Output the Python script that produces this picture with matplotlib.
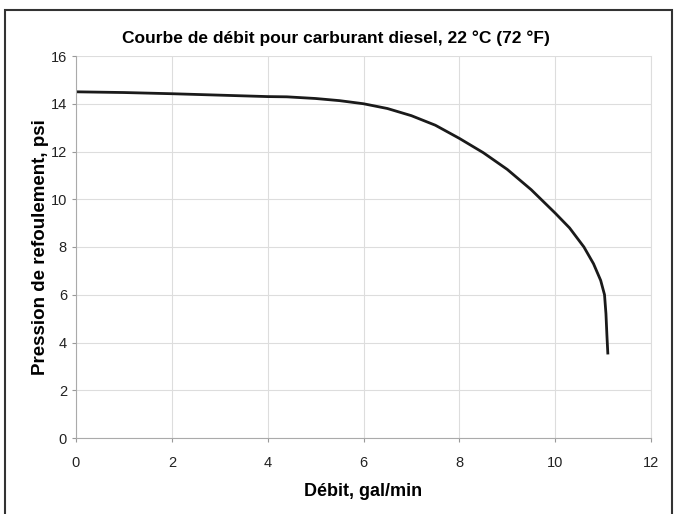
import matplotlib
matplotlib.use("Agg")
import matplotlib.pyplot as plt
from matplotlib.patches import Rectangle

plt.rcParams['font.family'] = ['Liberation Sans', 'DejaVu Sans']

# courbe de débit
debit = [0.0, 1.0, 2.0, 3.0, 4.0, 4.4, 5.0, 5.5, 6.0, 6.5, 7.0, 7.5, 8.0, 8.5, 9.0,
         9.5, 10.0, 10.3, 10.6, 10.8, 10.95, 11.03, 11.06, 11.08, 11.1]
pression = [14.5, 14.47, 14.42, 14.36, 14.3, 14.29, 14.22, 14.13, 14.0, 13.8, 13.5, 13.1,
            12.55, 11.95, 11.25, 10.4, 9.42, 8.8, 8.0, 7.3, 6.6, 6.0, 5.2, 4.3, 3.5]

xticks = [0, 2, 4, 6, 8, 10, 12]
yticks = [0, 2, 4, 6, 8, 10, 12, 14, 16]

fig = plt.figure(figsize=(6.76, 5.14), dpi=100)
ax = fig.add_axes([76/676, 1 - 438/514, (651-76)/676, (438-56)/514])

ax.plot(debit, pression, color='#1a1a1a', lw=2.0, solid_capstyle='butt')

ax.set_xlim(0, 12)
ax.set_ylim(0, 16)
ax.set_xticks(xticks)
ax.set_yticks(yticks)
ax.grid(True, color='#dddddd', lw=0.8)
ax.set_axisbelow(True)
for s in ax.spines.values():
    s.set_color('#aaaaaa')
    s.set_linewidth(0.8)
ax.spines['top'].set_visible(False)
ax.spines['right'].set_color('#dddddd')
ax.tick_params(axis='both', length=3, color='#999999', labelsize=10.5,
               labelcolor='#222222')
ax.tick_params(axis='x', pad=10)

# titre centré sur la figure
fig.text(0.497, 1 - 38/514, 'Courbe de débit pour carburant diesel, 22 °C (72 °F)',
         fontsize=12.5, fontweight='bold', ha='center', va='center')
ax.set_xlabel('Débit, gal/min', fontsize=13, fontweight='bold', labelpad=9)
ax.set_ylabel('Pression de refoulement, psi', fontsize=13.5, fontweight='bold',
              labelpad=1)

# cadre autour du graphique
fig.patches.append(Rectangle((5/676, -0.02), (672-5)/676, 1 - 10/514 + 0.02,
                             transform=fig.transFigure, fill=False,
                             edgecolor='#333333', lw=1.5))

fig.savefig('out.png', dpi=100)
